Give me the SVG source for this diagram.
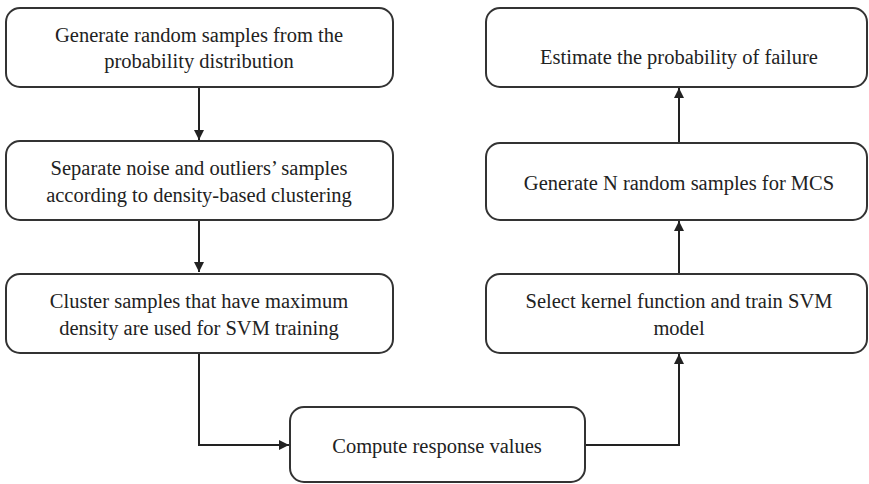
<svg xmlns="http://www.w3.org/2000/svg" width="869" height="484" viewBox="0 0 869 484">
<style>
.box{fill:#fff;stroke:#333;stroke-width:2}
.t{font-family:"Liberation Serif","Times New Roman",serif;font-size:20.5px;fill:#222;text-anchor:middle}
.c{fill:none;stroke:#222;stroke-width:2}
</style>
<defs>
<marker id="ah" viewBox="0 0 10 10" refX="10" refY="5" markerWidth="5" markerHeight="5" orient="auto" markerUnits="strokeWidth">
<path d="M0,0 L10,5 L0,10 z" fill="#222"/>
</marker>
</defs>
<rect width="869" height="484" fill="#fff"/>
<g id="connectors">
<line class="c" x1="199" y1="87" x2="199" y2="140" marker-end="url(#ah)"/>
<line class="c" x1="199" y1="220" x2="199" y2="272" marker-end="url(#ah)"/>
<polyline class="c" points="199,353 199,445 289,445" marker-end="url(#ah)"/>
<polyline class="c" points="585,445 679,445 679,354" marker-end="url(#ah)"/>
<line class="c" x1="679" y1="273" x2="679" y2="221" marker-end="url(#ah)"/>
<line class="c" x1="679" y1="143" x2="679" y2="88" marker-end="url(#ah)"/>
</g>
<g id="n1">
<rect class="box" x="6" y="8" width="387" height="79" rx="14"/>
<text class="t" x="199" y="42">Generate random samples from the</text>
<text class="t" x="199" y="68">probability distribution</text>
</g>
<g id="n2">
<rect class="box" x="6" y="141" width="387" height="79" rx="14"/>
<text class="t" x="199" y="175">Separate noise and outliers’ samples</text>
<text class="t" x="199" y="202">according to density-based clustering</text>
</g>
<g id="n3">
<rect class="box" x="6" y="274" width="387" height="79" rx="14"/>
<text class="t" x="199" y="308">Cluster samples that have maximum</text>
<text class="t" x="199" y="335">density are used for SVM training</text>
</g>
<g id="n4">
<rect class="box" x="290" y="407" width="295" height="75" rx="14"/>
<text class="t" x="437" y="453">Compute response values</text>
</g>
<g id="n5">
<rect class="box" x="486" y="274" width="381" height="79" rx="14"/>
<text class="t" x="679" y="308">Select kernel function and train SVM</text>
<text class="t" x="679" y="335">model</text>
</g>
<g id="n6">
<rect class="box" x="486" y="143" width="381" height="77" rx="14"/>
<text class="t" x="679" y="190">Generate N random samples for MCS</text>
</g>
<g id="n7">
<rect class="box" x="486" y="8" width="381" height="79" rx="14"/>
<text class="t" x="679" y="64">Estimate the probability of failure</text>
</g>
</svg>
